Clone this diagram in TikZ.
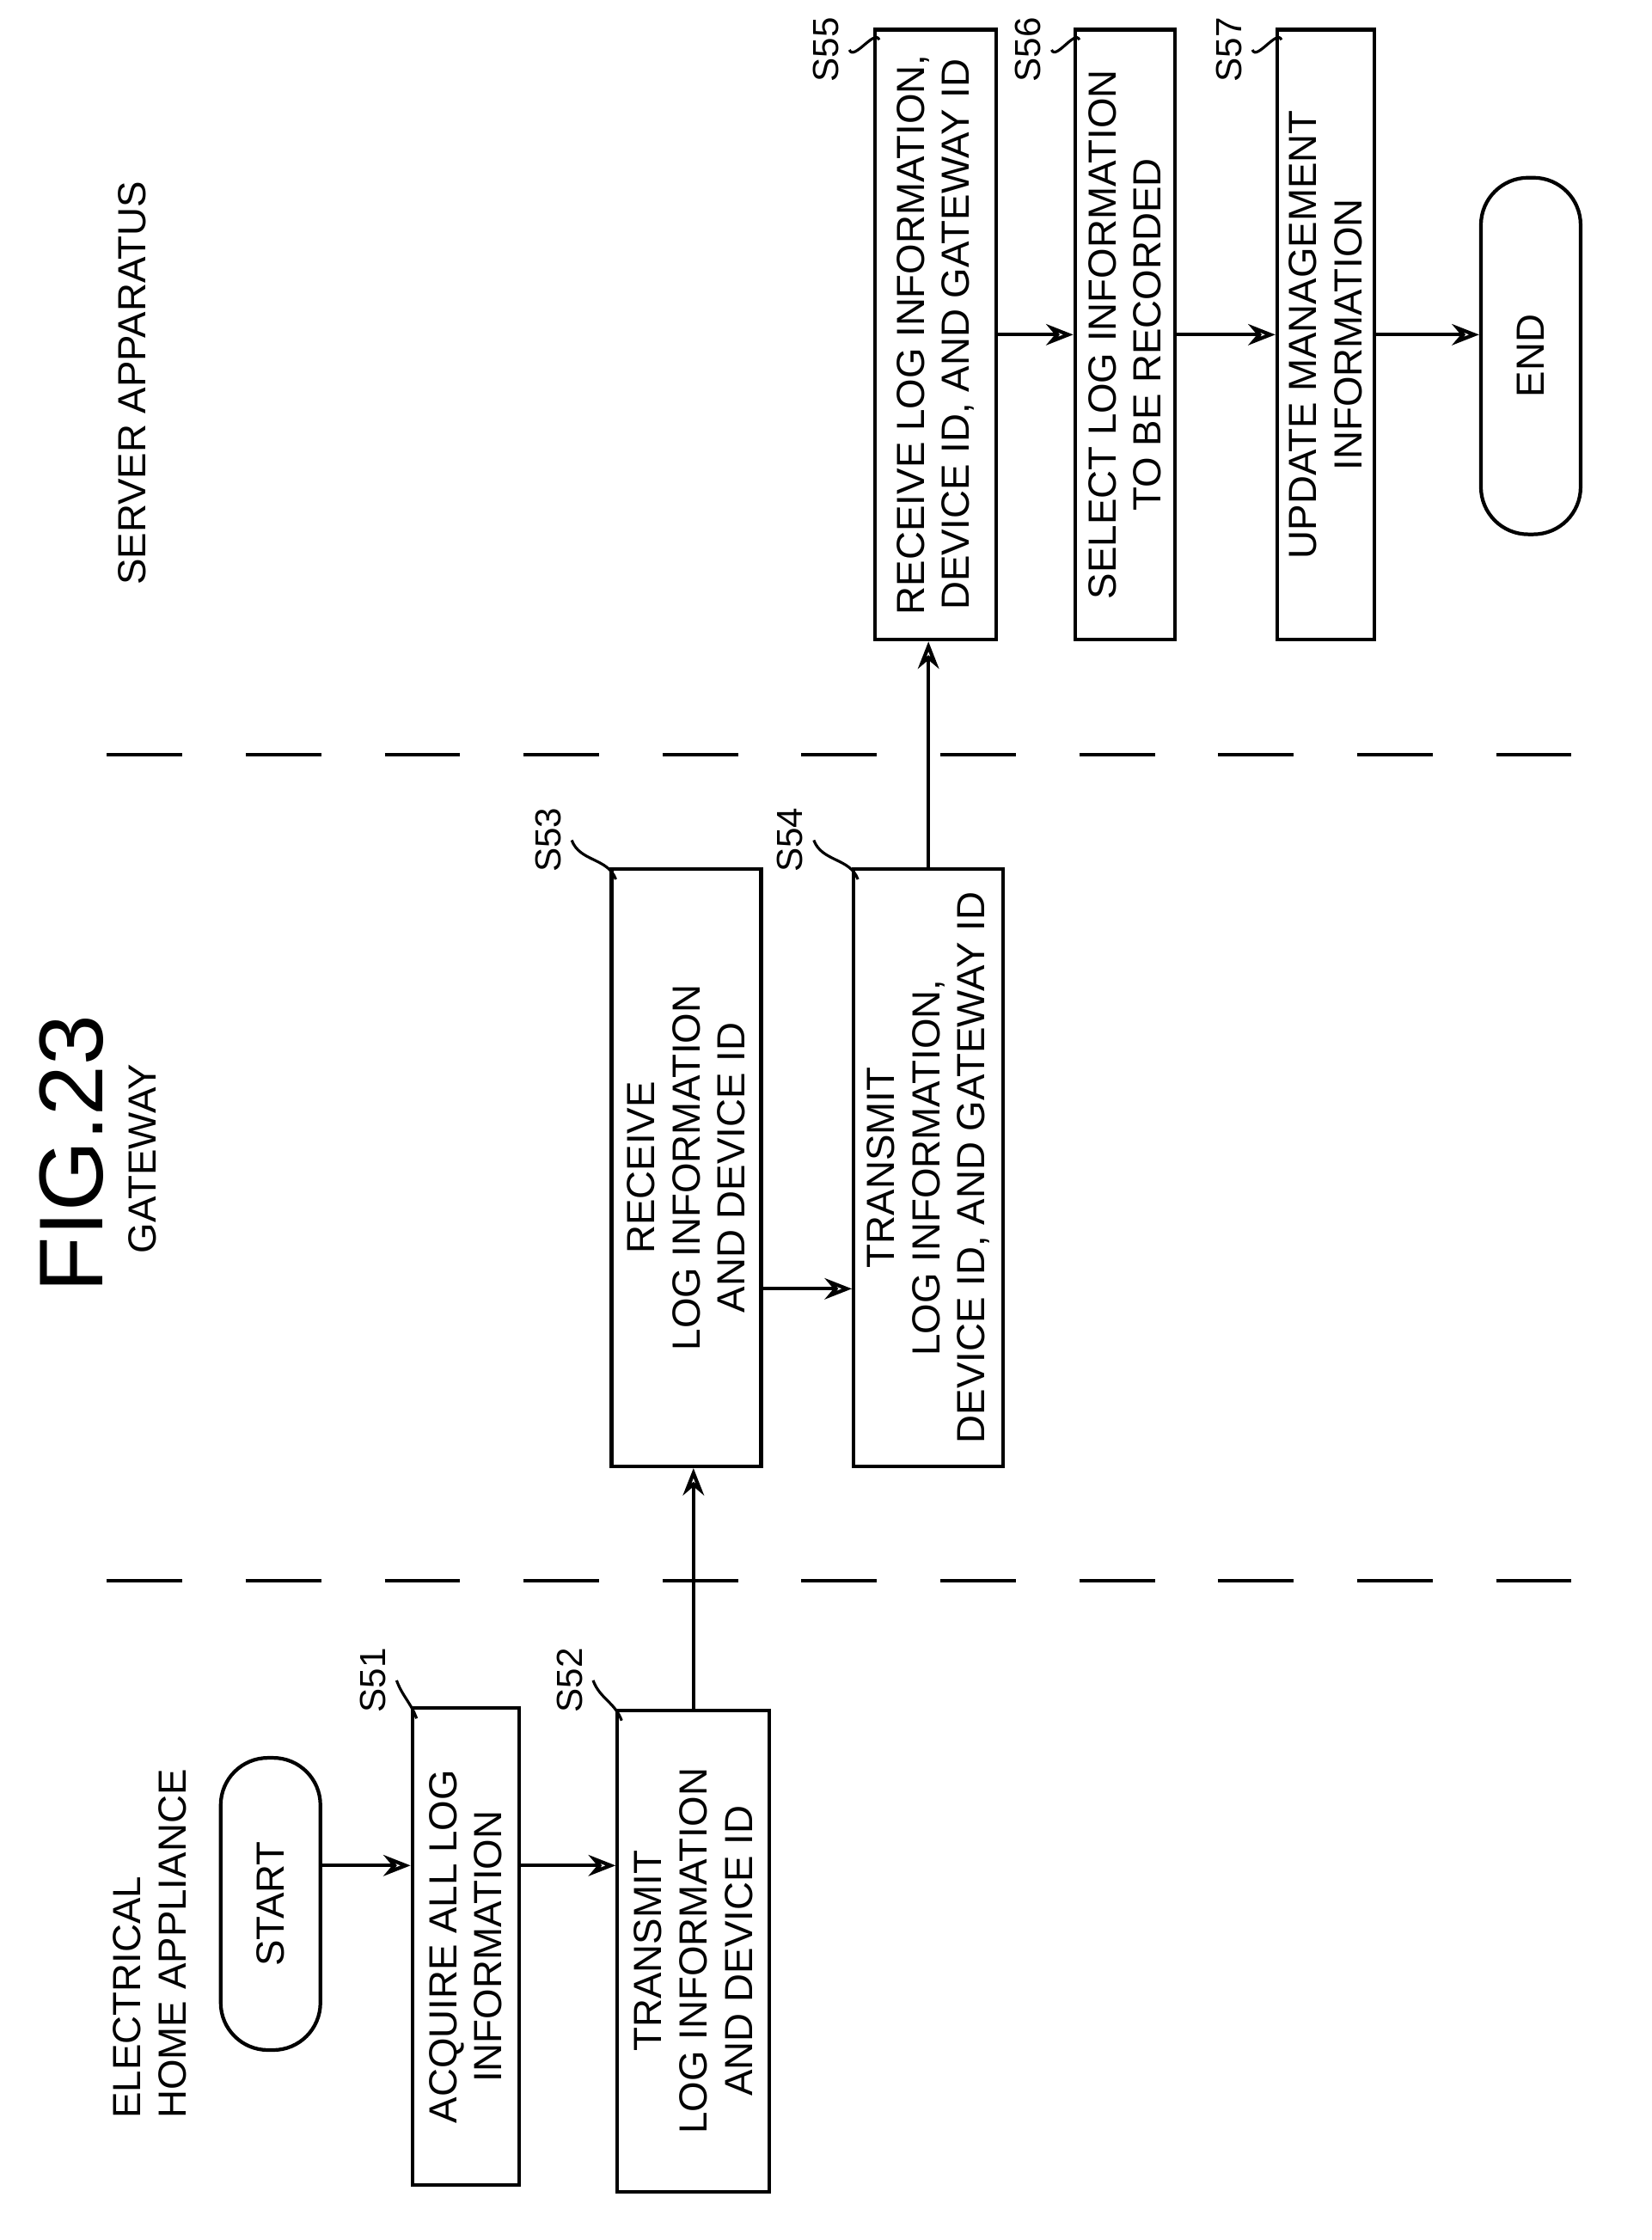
\documentclass[tikz,border=0pt]{standalone}
\usepackage{fontspec}
\setmainfont{Liberation Sans}
\usetikzlibrary{arrows.meta,positioning}

\begin{document}
\begin{tikzpicture}[x=0.01657cm,y=-0.01657cm,
  every node/.style={font=\fontsize{13}{15}\selectfont},
  proc/.style={draw,line width=1.2pt,rotate=90,align=center,inner sep=2pt},
  term/.style={draw,line width=1.2pt,rotate=90,rounded corners=0.55cm,minimum height=1.16cm,inner sep=2pt},
  lane/.style={line width=1.3pt,dash pattern=on 25pt off 21pt},
  arr/.style={-{Stealth[length=9pt,width=7pt,open]},line width=1.2pt},
  tag/.style={rotate=90,font=\fontsize{12}{14}\selectfont},
  lead/.style={line width=0.9pt}]
  \useasboundingbox (0,0) rectangle (1160,1573);

  % lanes
  \node[rotate=90,font=\fontsize{30}{34}\selectfont] (fig) at (50,810) {FIG.23};
  \node[rotate=90,anchor=east] (gw)  at (100,740) {GATEWAY};
  \node[rotate=90,anchor=east,align=left] (eha) at (105,1235) {ELECTRICAL\\HOME APPLIANCE};
  \node[rotate=90,anchor=east] (srv) at (93,120) {SERVER APPARATUS};
  \coordinate (d1a) at (75,530);  \coordinate (d1b) at (1140,530);
  \coordinate (d2a) at (75,1110); \coordinate (d2b) at (1140,1110);
  \draw[lane] (d1a) -- (d1b);
  \draw[lane] (d2a) -- (d2b);

  % steps
  \node[term,minimum width=3.4cm]              (start) at (190,1337) {START};
  \node[proc,minimum width=5.55cm,minimum height=1.24cm] (s51) at (327,1367) {ACQUIRE ALL LOG\\INFORMATION};
  \node[proc,minimum width=5.6cm,minimum height=1.77cm]  (s52) at (487,1370) {TRANSMIT\\LOG INFORMATION\\AND DEVICE ID};
  \node[proc,minimum width=6.95cm,minimum height=1.74cm] (s53) at (482,820) {RECEIVE\\LOG INFORMATION\\AND DEVICE ID};
  \node[proc,minimum width=6.95cm,minimum height=1.74cm] (s54) at (652,820) {TRANSMIT\\LOG INFORMATION,\\DEVICE ID, AND GATEWAY ID};
  \node[proc,minimum width=7.1cm,minimum height=1.41cm]  (s55) at (657,235) {RECEIVE LOG INFORMATION,\\DEVICE ID, AND GATEWAY ID};
  \node[proc,minimum width=7.1cm,minimum height=1.16cm]  (s56) at (790,235) {SELECT LOG INFORMATION\\TO BE RECORDED};
  \node[proc,minimum width=7.1cm,minimum height=1.13cm]  (s57) at (931,235) {UPDATE MANAGEMENT\\INFORMATION};
  \node[term,minimum width=4.15cm]             (end)   at (1075,250) {END};

  % step tags
  \node[tag] (t51) at (262,1180) {S51};
  \node[tag] (t52) at (400,1180) {S52};
  \node[tag] (t53) at (385,590)  {S53};
  \node[tag] (t54) at (555,590)  {S54};
  \node[tag] (t55) at (580,35)   {S55};
  \node[tag] (t56) at (722,35)   {S56};
  \node[tag] (t57) at (863,35)   {S57};
  \foreach \t/\s in {t51/s51,t52/s52,t53/s53,t54/s54,t55/s55,t56/s56,t57/s57}
    \draw[lead] (\t.south) to[out=-70,in=110] ([xshift=2pt,yshift=-4pt]\s.north east);

  % flow
  \coordinate (r1) at (0,1310);
  \coordinate (r2) at (0,905);
  \coordinate (r3) at (0,235);
  \draw[arr] (start.south |- r1) -- (s51.north |- r1);
  \draw[arr] (s51.south |- r1) -- (s52.north |- r1);
  \draw[arr] (s52.east) -- (s52.east |- s53.west);
  \draw[arr] (s53.south |- r2) -- (s54.north |- r2);
  \draw[arr] (s54.east) -- (s54.east |- s55.west);
  \draw[arr] (s55.south |- r3) -- (s56.north |- r3);
  \draw[arr] (s56.south |- r3) -- (s57.north |- r3);
  \draw[arr] (s57.south |- r3) -- (end.north |- r3);
\end{tikzpicture}
\end{document}
